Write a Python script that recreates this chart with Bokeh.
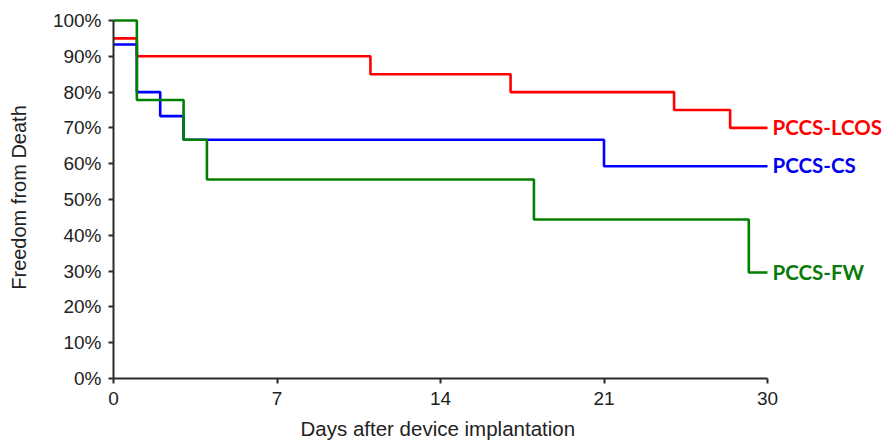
from bokeh.plotting import figure
from bokeh.models import (ColumnDataSource, FixedTicker, NumeralTickFormatter,
                          Range1d, Title)
from bokeh.core.properties import value
from bokeh.embed import file_html
from bokeh.resources import INLINE

# ---- data ----
lcos_days = [0, 1, 11, 17, 24, 26.4, 28]
lcos_surv = [0.95, 0.90, 0.85, 0.80, 0.75, 0.70, 0.70]

cs_days = [0, 1, 2, 3, 21, 28]
cs_surv = [0.933, 0.80, 0.733, 0.667, 0.593, 0.593]

fw_days = [0, 1, 3, 4, 18, 27.2, 28]
fw_surv = [1.00, 0.778, 0.667, 0.556, 0.444, 0.296, 0.296]

series_names = ["PCCS-LCOS", "PCCS-CS", "PCCS-FW"]
series_colors = ["#ff0000", "#0000ff", "#008000"]
label_colors = ["#ff0000", "#0000f0", "#0a7a0a"]

x_ticks = [0, 7, 14, 21, 28]
x_tick_labels = ["0", "7", "14", "21", "30"]
y_ticks = [0.0, 0.1, 0.2, 0.3, 0.4, 0.5, 0.6, 0.7, 0.8, 0.9, 1.0]

x_title = "Days after device implantation"
y_title = "Freedom from Death"

# ---- figure ----
W, H = 887, 446
left, top, bottom = 113, 16, 67
frame_w = W - left
px_per_day = 654 / 28
p = figure(width=W, height=H, output_backend="svg", toolbar_location=None,
           x_range=Range1d(0, frame_w / px_per_day),
           y_range=Range1d(0, 363 / 359),
           min_border_left=left, min_border_right=0,
           min_border_top=top, min_border_bottom=bottom)
p.outline_line_color = None
p.xgrid.visible = False
p.ygrid.visible = False
p.background_fill_color = "white"
p.border_fill_color = "white"

for days, surv, col in [(lcos_days, lcos_surv, series_colors[0]),
                        (cs_days, cs_surv, series_colors[1]),
                        (fw_days, fw_surv, series_colors[2])]:
    p.step(days, surv, mode="after", line_color=col, line_width=2.6)

# end labels
end_src = ColumnDataSource(dict(
    x=[lcos_days[-1], cs_days[-1], fw_days[-1]],
    y=[lcos_surv[-1], cs_surv[-1], fw_surv[-1]],
    text=series_names,
    color=label_colors,
))
p.text(x="x", y="y", text="text", source=end_src, x_offset=5, y_offset=-1,
       text_baseline="middle", text_align="left", text_color="color",
       text_font=value("Lato"), text_font_style="bold",
       text_font_size="20.5px")

# axes
for ax in (p.xaxis[0], p.yaxis[0]):
    ax.axis_line_color = "#2a2a2a"
    ax.axis_line_width = 2
    ax.major_tick_line_color = "#2a2a2a"
    ax.major_tick_line_width = 2
    ax.major_tick_out = 5
    ax.major_tick_in = 0
    ax.minor_tick_line_color = None
    ax.major_label_text_font = "Liberation Sans"
    ax.major_label_text_font_size = "19px"
    ax.major_label_text_color = "#222222"
    ax.axis_label_text_font = "Liberation Sans"
    ax.axis_label_text_font_size = "20px"
    ax.axis_label_text_font_style = "normal"
    ax.axis_label_text_color = "#222222"

p.xaxis.ticker = FixedTicker(ticks=x_ticks)
p.xaxis.major_label_overrides = {t: l for t, l in zip(x_ticks, x_tick_labels)}
p.xaxis.bounds = (0, 28)
p.xaxis.major_label_standoff = 8

# x-axis title, centred under the 0..28 part of the axis
p.add_layout(Title(text=x_title, align="left", offset=187, standoff=14,
                   text_font="Liberation Sans", text_font_size="20.5px",
                   text_font_style="normal", text_color="#222222"), "below")

p.yaxis.ticker = FixedTicker(ticks=y_ticks)
p.yaxis.formatter = NumeralTickFormatter(format="0%")
p.yaxis.bounds = (0, 1)
p.yaxis.axis_label = y_title
p.yaxis.major_label_standoff = 7
p.yaxis.axis_label_standoff = 20

open("out.html", "w").write(file_html(p, INLINE))
